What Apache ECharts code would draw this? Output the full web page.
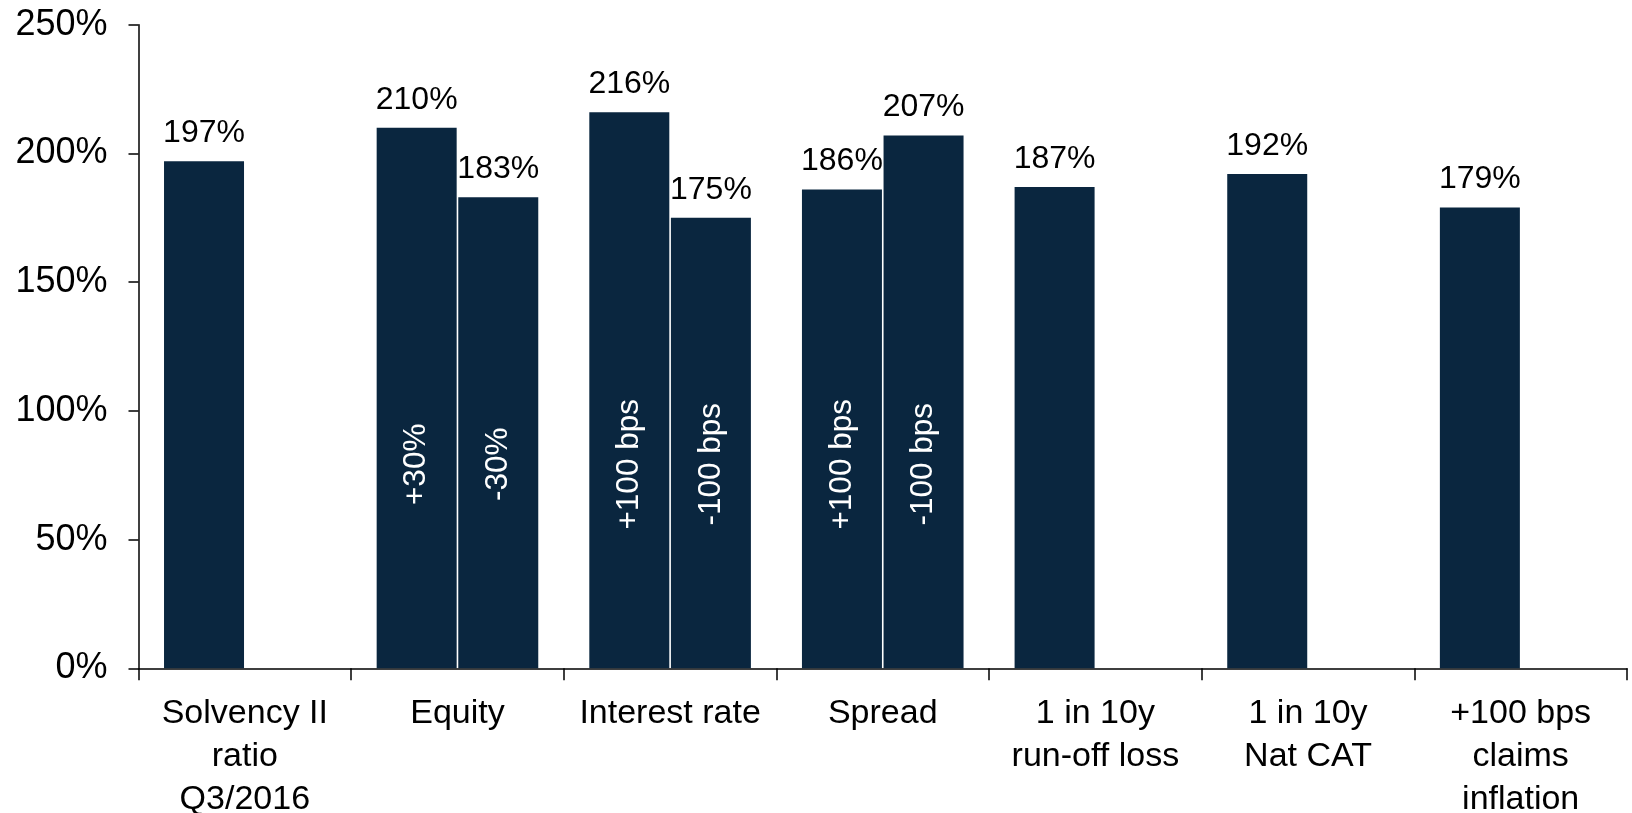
<!DOCTYPE html>
<html>
<head>
<meta charset="utf-8">
<script src="https://cdn.jsdelivr.net/npm/echarts@6/dist/echarts.min.js"></script>
<style>
  html, body { margin: 0; padding: 0; background: #ffffff; }
  #chart { width: 1632px; height: 813px; }
</style>
</head>
<body>
<div id="chart"></div>
<script>
// Solvency II ratio sensitivities
const categories = [
  'Solvency II\nratio\nQ3/2016',
  'Equity',
  'Interest rate',
  'Spread',
  '1 in 10y\nrun-off loss',
  '1 in 10y\nNat CAT',
  '+100 bps\nclaims\ninflation'
];
// first bar of each group (base ratio or upward shock)
const valuesUp = [197, 210, 216, 186, 187, 192, 179];
// second bar of each group (downward shock), only where a pair exists
const valuesDown = [null, 183, 175, 207, null, null, null];
// scenario names written inside the paired bars
const namesUp = [null, '+30%', '+100 bps', '+100 bps', null, null, null];
const namesDown = [null, '-30%', '-100 bps', '-100 bps', null, null, null];
const yTicks = { min: 0, max: 250, interval: 50 };

const FONT = '"Liberation Sans", Arial, sans-serif';
const BAR = '#0a263f';

const chart = echarts.init(document.getElementById('chart'), null, { renderer: 'canvas' });

function barSeries(stack, values, names) {
  return {
    type: 'bar',
    stack: stack,
    data: values,
    barWidth: 80,
    barGap: '2%',
    itemStyle: { color: BAR },
    label: {
      show: true,
      position: 'insideBottom',
      distance: 204,
      rotate: 90,
      align: 'center',
      verticalAlign: 'middle',
      color: '#ffffff',
      fontFamily: FONT,
      fontSize: 31.5,
      formatter: p => names[p.dataIndex] || ''
    },
    silent: true
  };
}

// zero-height cap on each bar carrying the value label
function capSeries(stack, values) {
  return {
    type: 'bar',
    stack: stack,
    data: values.map(v => (v == null ? null : 0)),
    barWidth: 80,
    barGap: '2%',
    itemStyle: { color: 'rgba(0,0,0,0)' },
    label: {
      show: true,
      position: 'top',
      distance: 12,
      color: '#000000',
      fontFamily: FONT,
      fontSize: 32,
      formatter: p => values[p.dataIndex] + '%'
    },
    silent: true
  };
}

chart.setOption({
  animation: false,
  backgroundColor: '#ffffff',
  grid: {
    left: 138.5, right: 5, top: 24.8, bottom: 144.7,
    containLabel: false,
    outerBoundsMode: 'none'
  },
  xAxis: {
    type: 'category',
    data: categories,
    boundaryGap: true,
    axisLine: { lineStyle: { color: '#000000', width: 1.5 } },
    axisTick: { show: true, length: 12, lineStyle: { color: '#000000', width: 1.5 } },
    axisLabel: {
      color: '#000000',
      fontFamily: FONT,
      fontSize: 34,
      lineHeight: 43,
      margin: 24,
      interval: 0
    },
    splitLine: { show: false }
  },
  yAxis: {
    type: 'value',
    min: yTicks.min,
    max: yTicks.max,
    interval: yTicks.interval,
    axisLine: { show: true, lineStyle: { color: '#000000', width: 1.5 } },
    axisTick: { show: true, inside: false, length: 10, lineStyle: { color: '#000000', width: 1.5 } },
    axisLabel: {
      color: '#000000',
      fontFamily: FONT,
      fontSize: 36,
      margin: 31,
      formatter: '{value}%'
    },
    splitLine: { show: false }
  },
  series: [
    barSeries('up', valuesUp, namesUp),
    capSeries('up', valuesUp),
    barSeries('down', valuesDown, namesDown),
    capSeries('down', valuesDown)
  ]
});
</script>
</body>
</html>
